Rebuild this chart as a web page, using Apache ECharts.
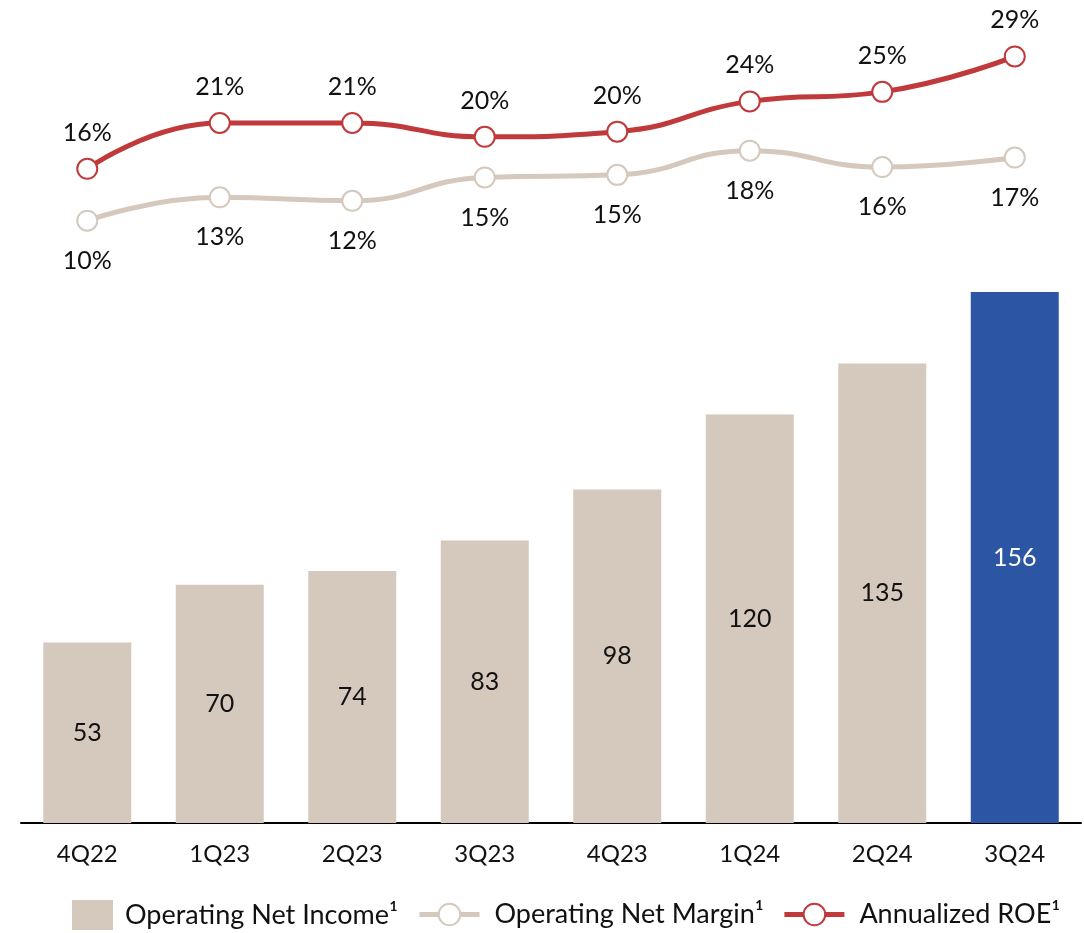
<!DOCTYPE html>
<html>
<head>
<meta charset="utf-8">
<title>Operating results by quarter</title>
<script src="https://cdn.jsdelivr.net/npm/echarts@6/dist/echarts.min.js"></script>
<style>
  html, body { margin: 0; padding: 0; background: #ffffff; }
  #chart { width: 1084px; height: 933px; }
</style>
</head>
<body>
<div id="chart"></div>
<script>
// Quarters on the x axis
const quarters = ['4Q22', '1Q23', '2Q23', '3Q23', '4Q23', '1Q24', '2Q24', '3Q24'];
// Operating net income per quarter
const netIncome = [53, 70, 74, 83, 98, 120, 135, 156];
// Annualized return on equity, percent
const roe = [16.1, 21.4, 21.4, 19.8, 20.4, 23.9, 25.0, 29.1];
// Operating net margin, percent
const netMargin = [10.1, 12.8, 12.4, 15.1, 15.4, 18.2, 16.3, 17.4];

const FONT = 'Lato';
const TEXT = '#111111';
const BEIGE = '#d5c8bc';
const RED = '#c0393b';
const BLUE = '#2c55a3';
const highlightIndex = quarters.length - 1;

const chart = echarts.init(document.getElementById('chart'), null, { renderer: 'canvas' });

const pct = p => Math.round(p.value) + '%';

chart.setOption({
  animation: false,
  backgroundColor: '#ffffff',
  textStyle: { fontFamily: FONT, color: TEXT },
  grid: [
    { left: 21, right: 3, top: 40, height: 268 },   // percentage lines
    { left: 21, right: 3, top: 292, height: 531 }   // income bars
  ],
  xAxis: [
    { type: 'category', gridIndex: 0, data: quarters, show: false, boundaryGap: true },
    {
      type: 'category', gridIndex: 1, data: quarters, boundaryGap: true,
      axisLine: { lineStyle: { color: '#000000', width: 2 } },
      axisTick: { show: false },
      axisLabel: { fontFamily: FONT, fontSize: 24, color: TEXT, margin: 16, lineHeight: 30 }
    }
  ],
  yAxis: [
    { type: 'value', gridIndex: 0, min: 0, max: 31, show: false },
    { type: 'value', gridIndex: 1, min: 0, max: 156, show: false }
  ],
  legend: [
    {
      data: ['Operating Net Income¹'],
      left: 72, top: 900, padding: 0,
      itemWidth: 41, itemHeight: 30,
      textStyle: { fontFamily: FONT, fontSize: 27, color: TEXT, padding: [0, 0, 0, 7] },
      icon: 'rect'
    },
    {
      data: ['Operating Net Margin¹', 'Annualized ROE¹'],
      left: 417, top: 901, padding: 0,
      itemWidth: 60, itemHeight: 27, itemGap: 18,
      lineStyle: { width: 5 },
      itemStyle: { borderWidth: 2 },
      textStyle: { fontFamily: FONT, fontSize: 27, color: TEXT, padding: [0, 0, 0, 10] }
    }
  ],
  series: [
    {
      name: 'Operating Net Income¹',
      type: 'bar',
      xAxisIndex: 1, yAxisIndex: 1,
      barWidth: 88,
      data: netIncome.map((v, i) => ({
        value: v,
        itemStyle: { color: i === highlightIndex ? BLUE : BEIGE },
        label: { color: i === highlightIndex ? '#ffffff' : TEXT }
      })),
      itemStyle: { color: BEIGE },
      label: { show: true, position: 'inside', fontFamily: FONT, fontSize: 25 }
    },
    {
      name: 'Operating Net Margin¹',
      type: 'line',
      xAxisIndex: 0, yAxisIndex: 0,
      smooth: 0.5,
      data: netMargin,
      symbol: 'emptyCircle',
      symbolSize: 20,
      lineStyle: { color: BEIGE, width: 5 },
      itemStyle: { color: BEIGE, borderColor: BEIGE, borderWidth: 2 },
      label: {
        show: true, position: 'bottom', distance: 14,
        fontFamily: FONT, fontSize: 25, color: TEXT, lineHeight: 30,
        formatter: pct
      },
      z: 3
    },
    {
      name: 'Annualized ROE¹',
      type: 'line',
      xAxisIndex: 0, yAxisIndex: 0,
      smooth: 0.5,
      data: roe,
      symbol: 'emptyCircle',
      symbolSize: 20,
      lineStyle: { color: RED, width: 5 },
      itemStyle: { color: RED, borderColor: RED, borderWidth: 2 },
      label: {
        show: true, position: 'top', distance: 10,
        fontFamily: FONT, fontSize: 25, color: TEXT, lineHeight: 30,
        formatter: pct
      },
      z: 4
    }
  ]
});
</script>
</body>
</html>
